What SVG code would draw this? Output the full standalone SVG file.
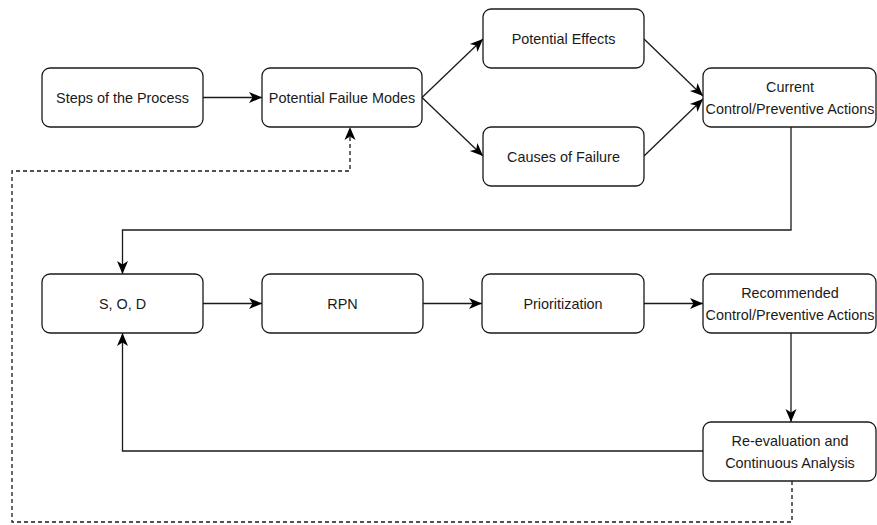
<svg xmlns="http://www.w3.org/2000/svg" width="877" height="525" viewBox="0 0 877 525">
<style>
.box{fill:#ffffff;stroke:#1a1a1a;stroke-width:1.3}
.lbl{font-family:"Liberation Sans",Arial,sans-serif;font-size:14.4px;fill:#1a1a1a;text-anchor:middle}
.con{fill:none;stroke:#1a1a1a;stroke-width:1.3}
.dash{stroke-dasharray:4 3}
</style>
<defs>
<marker id="arr" markerUnits="userSpaceOnUse" markerWidth="14" markerHeight="14" viewBox="0 0 14 14" refX="13" refY="7" orient="auto">
<path d="M0,1.5 L13,7 L0,12.5 L3.5,7 Z" fill="#000"/>
</marker>
</defs>
<rect width="877" height="525" fill="#ffffff"/>
<g id="connectors">
<path class="con" d="M203,97.5 H262" marker-end="url(#arr)"/>
<path class="con" d="M422,97.5 L483,39" marker-end="url(#arr)"/>
<path class="con" d="M422,97.5 L483,156" marker-end="url(#arr)"/>
<path class="con" d="M644,39 L703,96" marker-end="url(#arr)"/>
<path class="con" d="M644,156 L703,99" marker-end="url(#arr)"/>
<path class="con" d="M791,127 V230 H122.5 V274" marker-end="url(#arr)"/>
<path class="con" d="M203,303.5 H262" marker-end="url(#arr)"/>
<path class="con" d="M423,303.5 H482" marker-end="url(#arr)"/>
<path class="con" d="M644,303.5 H703" marker-end="url(#arr)"/>
<path class="con" d="M791,333 V422" marker-end="url(#arr)"/>
<path class="con" d="M703,451 H122.5 V333" marker-end="url(#arr)"/>
<path class="con dash" d="M792,481 V522 H12 V171 H350 V127" marker-end="url(#arr)"/>
</g>
<g id="steps">
<rect class="box" x="42" y="68" width="161" height="59" rx="8"/>
<text class="lbl" x="122.5" y="102.5">Steps of the Process</text>
</g>
<g id="failure-modes">
<rect class="box" x="262" y="68" width="160" height="59" rx="8"/>
<text class="lbl" x="342" y="102.5">Potential Failue Modes</text>
</g>
<g id="effects">
<rect class="box" x="483" y="9" width="161" height="59" rx="8"/>
<text class="lbl" x="563.5" y="43.5">Potential Effects</text>
</g>
<g id="causes">
<rect class="box" x="483" y="127" width="161" height="59" rx="8"/>
<text class="lbl" x="563.5" y="161.5">Causes of Failure</text>
</g>
<g id="current">
<rect class="box" x="703" y="68" width="173" height="59" rx="8"/>
<text class="lbl" x="790" y="92">Current</text>
<text class="lbl" x="790" y="114">Control/Preventive Actions</text>
</g>
<g id="sod">
<rect class="box" x="42" y="274" width="161" height="59" rx="8"/>
<text class="lbl" x="122.5" y="308.5">S, O, D</text>
</g>
<g id="rpn">
<rect class="box" x="262" y="274" width="161" height="59" rx="8"/>
<text class="lbl" x="342.5" y="308.5">RPN</text>
</g>
<g id="prioritization">
<rect class="box" x="482" y="274" width="162" height="59" rx="8"/>
<text class="lbl" x="563" y="308.5">Prioritization</text>
</g>
<g id="recommended">
<rect class="box" x="703" y="274" width="173" height="59" rx="8"/>
<text class="lbl" x="790" y="298">Recommended</text>
<text class="lbl" x="790" y="320">Control/Preventive Actions</text>
</g>
<g id="reevaluation">
<rect class="box" x="703" y="422" width="173" height="59" rx="8"/>
<text class="lbl" x="790" y="446">Re-evaluation and</text>
<text class="lbl" x="790" y="468">Continuous Analysis</text>
</g>
</svg>
